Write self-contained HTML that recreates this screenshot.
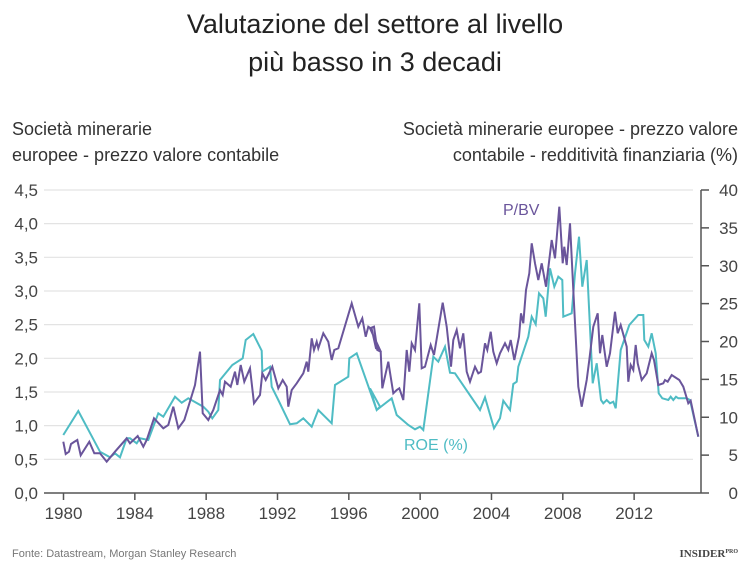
<!DOCTYPE html>
<html><head><meta charset="utf-8"><style>
body{margin:0;background:#fff;}
svg{display:block;font-family:"Liberation Sans",sans-serif;}
</style></head><body>
<svg id="s" width="750" height="570" viewBox="0 0 750 570">
<text x="375" y="33" text-anchor="middle" font-size="27" fill="#222">Valutazione del settore al livello</text>
<text x="375" y="71" text-anchor="middle" font-size="27" fill="#222">più basso in 3 decadi</text>
<text x="12" y="135" font-size="18" fill="#333">Società minerarie</text>
<text x="12" y="161" font-size="18" fill="#333">europee - prezzo valore contabile</text>
<text x="738" y="135" text-anchor="end" font-size="18" fill="#333">Società minerarie europee - prezzo valore</text>
<text x="738" y="161" text-anchor="end" font-size="18" fill="#333">contabile - redditività finanziaria (%)</text>
<g id="grid" stroke="#e3e3e3" stroke-width="1.2"></g>
<g id="labs" font-size="17" fill="#444"></g>
<line x1="44" y1="493" x2="701" y2="493" stroke="#555" stroke-width="1.5"/>
<line x1="701" y1="190" x2="701" y2="493" stroke="#555" stroke-width="1.5"/>
<polyline id="roe" fill="none" stroke="#4fbcc4" stroke-width="2"/>
<polyline id="pbv" fill="none" stroke="#6a559b" stroke-width="2"/>
<text x="503" y="215" font-size="16" fill="#6a559b">P/BV</text>
<text x="404" y="450" font-size="16" fill="#4fbcc4">ROE (%)</text>
<text x="12" y="557" font-size="11" fill="#777">Fonte: Datastream, Morgan Stanley Research</text>
<text x="738" y="557" text-anchor="end" font-size="11" font-weight="bold" fill="#444" font-family="Liberation Serif,serif">INSIDER<tspan font-size="6" dy="-4">PRO</tspan></text>
</svg>
<script>
var ns="http://www.w3.org/2000/svg";
function el(t,a,p,txt){var e=document.createElementNS(ns,t);for(var k in a)e.setAttribute(k,a[k]);if(txt!=null)e.textContent=txt;document.getElementById(p).appendChild(e);}
var lv=["0,0","0,5","1,0","1,5","2,0","2,5","3,0","3,5","4,0","4,5"];
for(var i=0;i<10;i++){var y=493-i*33.67;
 if(i>0)el("line",{x1:44,y1:y,x2:693,y2:y},"grid");
 el("text",{x:38,y:y+6,"text-anchor":"end"},"labs",lv[i]);}
for(var i=0;i<=8;i++){var y=493-i*37.875;
 el("line",{x1:701,y1:y,x2:709,y2:y,stroke:"#555","stroke-width":1.5},"grid");
 el("text",{x:738,y:y+6,"text-anchor":"end"},"labs",String(i*5));}
var yrs=[1980,1984,1988,1992,1996,2000,2004,2008,2012];
yrs.forEach(function(yr,i){var x=63.5+i*71.33;
 el("line",{x1:x,y1:493,x2:x,y2:500,stroke:"#555","stroke-width":1.5},"grid");
 el("text",{x:x,y:519,"text-anchor":"middle"},"labs",String(yr));});
var p1=[190,785,197,822,207,815,213,792,222,786,232,780,242,826,268,785,283,820,300,820,320,845,345,815,380,775,390,790,413,768,430,800,440,780,462,715,490,745,505,735,520,680,535,745,553,720,585,615,600,515,608,700,625,720,640,690,660,630,668,645,675,605,692,620,705,575,712,615,722,555,733,605,750,565,762,670,780,645,787,580,797,600,817,560,835,625,848,600,860,620,865,680,875,630,890,610,910,580,920,545,925,575,935,475,942,510,950,485,955,505,970,460,985,485,995,540,1003,510,1015,505,1055,370,1075,440,1087,415,1097,470,1105,440,1115,447,1128,505,1140,510];
var p2=[0,445,12,440,22,510,32,515,37,625,55,545,70,640,80,630,88,625,100,660,110,510,118,575,125,490,135,510,148,370,155,565,165,560,182,495,192,525,218,368,230,440,243,560,250,480,260,450,270,505,280,460,290,575,300,605,315,560,325,580,333,575,345,490,352,510,362,455,370,515,380,550,390,520,405,490,415,510,422,480,433,540,447,470,453,400,460,430,468,330,478,280,485,190,495,250,505,300,515,250,528,320,545,180,555,235,568,80,578,250,583,200,590,255,600,130,610,330,625,620,635,680,650,600,658,540,670,440,683,400,690,520,697,465,710,560,720,520,735,395,743,460,752,435,770,500,775,605,782,555,790,570,797,495,803,550,815,600,830,580,845,520,852,540,865,615,880,610,885,600,893,605,905,585,928,600,940,620,955,670,962,662,985,770];
var r1=[190,765,235,693,300,815,330,832,345,820,360,832,380,775,390,775,410,790,420,775,445,780,475,700,490,710,525,650,545,668,565,655,610,680,625,695,637,715,655,690,660,600,697,555,728,535,737,480,760,462,785,512,787,575,810,560,815,620,835,660,870,733,890,730,910,715,935,740,955,690,995,730,1005,615,1045,590,1048,535,1070,520,1130,690,1140,680];
var r2=[0,625,20,690,65,655,80,705,115,735,135,748,150,740,160,750,190,530,205,545,225,500,240,578,255,580,330,690,345,652,372,745,390,715,400,662,420,690,430,612,440,605,445,560,460,515,475,470,485,410,497,433,507,340,520,355,527,410,540,265,553,320,565,290,577,300,580,410,605,400,615,280,627,170,637,320,650,240,668,610,680,550,693,660,700,670,710,660,720,670,730,665,737,685,752,510,778,435,805,405,820,405,823,480,835,500,845,460,857,520,866,640,877,655,895,660,902,650,910,660,918,650,925,655,950,655,960,660,985,770];
function pts(a,ox,oy){var s=[];for(var i=0;i<a.length;i+=2)s.push((ox+a[i]/3).toFixed(1)+","+(oy+a[i+1]/3).toFixed(1));return s;}
document.getElementById("pbv").setAttribute("points",pts(p1,0,180).concat(pts(p2,370,180)).join(" "));
document.getElementById("roe").setAttribute("points",pts(r1,0,180).concat(pts(r2,370,180)).join(" "));
</script>
</body></html>
